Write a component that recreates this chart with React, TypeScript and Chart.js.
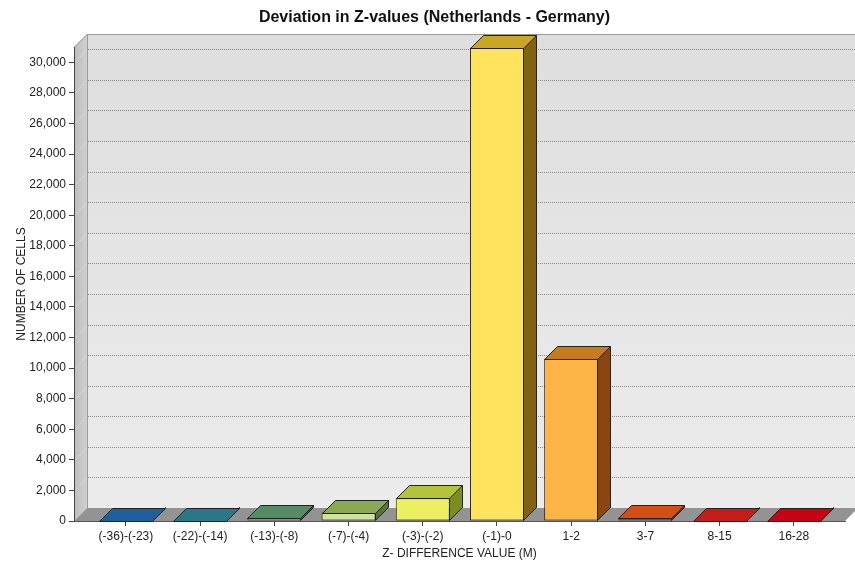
import React, { useEffect, useRef } from "react";
import { Chart, registerables } from "chart.js";

Chart.register(...registerables);

const categories = [
  "(-36)-(-23)",
  "(-22)-(-14)",
  "(-13)-(-8)",
  "(-7)-(-4)",
  "(-3)-(-2)",
  "(-1)-0",
  "1-2",
  "3-7",
  "8-15",
  "16-28",
];
const cellCounts = [20, 20, 200, 550, 1480, 30950, 10600, 180, 30, 20];
const frontColors = ["#3a7cc0", "#4a9aaa", "#a8ccb0", "#cfe3a0", "#eaf060", "#ffe35c", "#ffb545", "#f3a070", "#e06060", "#e04050"];
const topColors = ["#1e5f9e", "#2a7886", "#568c64", "#8aaa52", "#b4c43a", "#caa722", "#c97a1a", "#d45012", "#c41c1a", "#c40414"];
const sideColors = ["#0f3a66", "#164a55", "#2e5a3a", "#5a7430", "#7e8e1e", "#7f6312", "#8a4510", "#8c2c06", "#7a0e0c", "#7a0008"];
const yTickValues = [0, 2000, 4000, 6000, 8000, 10000, 12000, 14000, 16000, 18000, 20000, 22000, 24000, 26000, 28000, 30000];
const yMax = 31000;

const DX = 13;
const DY = 13;

const threeD = {
  id: "threeD",
  afterLayout(chart: any) {
    const tb = chart.titleBlock;
    if (tb) {
      tb.left += 12;
      tb.right += 12;
    }
  },
  beforeDraw(chart: any) {
    const ctx = chart.ctx;
    const { left, right, top, bottom } = chart.chartArea;
    const yScale = chart.scales.y;
    const W = chart.width;
    ctx.save();
    // back wall
    const g = ctx.createLinearGradient(0, top - DY, 0, bottom - DY);
    g.addColorStop(0, "#dedede");
    g.addColorStop(1, "#ececec");
    ctx.fillStyle = g;
    ctx.fillRect(left + DX, top - DY, W - left - DX, bottom - top);
    // left wall
    const g2 = ctx.createLinearGradient(left, 0, left + DX, 0);
    g2.addColorStop(0, "#bdbdbd");
    g2.addColorStop(1, "#d0d0d0");
    ctx.fillStyle = g2;
    ctx.beginPath();
    ctx.moveTo(left, bottom);
    ctx.lineTo(left, top);
    ctx.lineTo(left + DX, top - DY);
    ctx.lineTo(left + DX, bottom - DY);
    ctx.closePath();
    ctx.fill();
    // floor
    ctx.fillStyle = "#939393";
    ctx.beginPath();
    ctx.moveTo(left, bottom);
    ctx.lineTo(right, bottom);
    ctx.lineTo(right + DX, bottom - DY);
    ctx.lineTo(left + DX, bottom - DY);
    ctx.closePath();
    ctx.fill();
    // wall borders
    ctx.strokeStyle = "#9a9a9a";
    ctx.lineWidth = 1;
    ctx.beginPath();
    ctx.moveTo(left, top + 0.5);
    ctx.lineTo(left + DX, top - DY + 0.5);
    ctx.lineTo(W, top - DY + 0.5);
    ctx.moveTo(left + DX + 0.5, top - DY);
    ctx.lineTo(left + DX + 0.5, bottom - DY);
    ctx.stroke();
    // grid lines
    ctx.setLineDash([1, 1]);
    for (const t of yScale.ticks) {
      if (t.value === 0) continue;
      const py = Math.round(yScale.getPixelForValue(t.value)) + 0.5;
      ctx.strokeStyle = "#8a8a8a";
      ctx.beginPath();
      ctx.moveTo(left + DX + 1, py - DY);
      ctx.lineTo(W, py - DY);
      ctx.stroke();
      ctx.strokeStyle = "#e2e2e2";
      ctx.beginPath();
      ctx.moveTo(left + 1, py);
      ctx.lineTo(left + DX, py - DY);
      ctx.stroke();
    }
    ctx.restore();
  },
  afterDatasetsDraw(chart: any) {
    const ctx = chart.ctx;
    const meta = chart.getDatasetMeta(0);
    ctx.save();
    ctx.strokeStyle = "#222";
    ctx.lineWidth = 1;
    ctx.lineJoin = "round";
    meta.data.forEach((bar: any, i: number) => {
      const x0 = Math.round(bar.x - bar.width / 2) + 0.5;
      const x1 = Math.round(bar.x + bar.width / 2) - 0.5;
      const yt = Math.round(bar.y) + 0.5;
      const yb = Math.round(bar.base) - 0.5;
      // side
      ctx.fillStyle = sideColors[i];
      ctx.beginPath();
      ctx.moveTo(x1, yt);
      ctx.lineTo(x1 + DX, yt - DY);
      ctx.lineTo(x1 + DX, yb - DY);
      ctx.lineTo(x1, yb);
      ctx.closePath();
      ctx.fill();
      ctx.stroke();
      // top
      ctx.fillStyle = topColors[i];
      ctx.beginPath();
      ctx.moveTo(x0, yt);
      ctx.lineTo(x1, yt);
      ctx.lineTo(x1 + DX, yt - DY);
      ctx.lineTo(x0 + DX, yt - DY);
      ctx.closePath();
      ctx.fill();
      ctx.stroke();
    });
    ctx.restore();
  },
};

export default function App() {
  const ref = useRef<HTMLCanvasElement>(null);
  useEffect(() => {
    document.body.style.margin = "0";
    const chart = new Chart(ref.current as HTMLCanvasElement, {
      type: "bar",
      data: {
        datasets: [
          {
            data: cellCounts.map((v, i) => ({ x: i, y: v })),
            backgroundColor: frontColors,
            borderColor: "#222",
            borderWidth: 1,
            borderSkipped: false,
            categoryPercentage: 0.8,
            barPercentage: 0.91,
          },
        ],
      },
      options: {
        animation: false,
        responsive: false,
        layout: { padding: { left: 0, right: 10, top: 0, bottom: 0 } },
        plugins: {
          legend: { display: false },
          tooltip: { enabled: false },
          title: {
            display: true,
            text: "Deviation in Z-values (Netherlands - Germany)",
            color: "#111",
            font: { family: "'Liberation Sans', Arial, sans-serif", size: 16, weight: "bold" },
            padding: { top: 8, bottom: 19.8 },
          },
        },
        scales: {
          x: {
            type: "linear",
            offset: false,
            min: -0.7,
            max: 9.69,
            afterBuildTicks: (scale: any) => {
              scale.ticks = categories.map((_, i) => ({ value: i }));
            },
            afterFit: (scale: any) => {
              scale.height = 44;
            },
            ticks: {
              autoSkip: false,
              maxRotation: 0,
              padding: 3,
              color: "#222",
              font: { family: "'Liberation Sans', Arial, sans-serif", size: 12 },
              callback: (v: any) => categories[v] ?? "",
            },
            grid: { display: true, offset: false, drawOnChartArea: false, drawTicks: true, tickLength: 5, color: "#444" },
            border: { display: true, color: "#555" },
            title: {
              display: true,
              text: "Z- DIFFERENCE VALUE (M)",
              color: "#222",
              font: { family: "'Liberation Sans', Arial, sans-serif", size: 12 },
              padding: { top: 0, bottom: 4 },
            },
          },
          y: {
            min: 0,
            max: yMax,
            afterBuildTicks: (scale: any) => {
              scale.ticks = yTickValues.map((v) => ({ value: v }));
            },
            afterFit: (scale: any) => {
              scale.width = 74;
            },
            ticks: {
              padding: 3,
              color: "#222",
              font: { family: "'Liberation Sans', Arial, sans-serif", size: 12 },
              callback: (v: any) => Number(v).toLocaleString("en-US"),
            },
            grid: { display: true, drawOnChartArea: false, drawTicks: true, tickLength: 5, color: "#444" },
            border: { display: true, color: "#444" },
            title: {
              display: true,
              text: "NUMBER OF CELLS",
              color: "#222",
              font: { family: "'Liberation Sans', Arial, sans-serif", size: 12, lineHeight: 1 },
              padding: { top: 16, bottom: 0 },
            },
          },
        },
      },
      plugins: [threeD],
    } as any);
    return () => chart.destroy();
  }, []);
  return (
    <div style={{ width: 855, height: 565 }}>
      <canvas ref={ref} width={855} height={565} />
    </div>
  );
}
